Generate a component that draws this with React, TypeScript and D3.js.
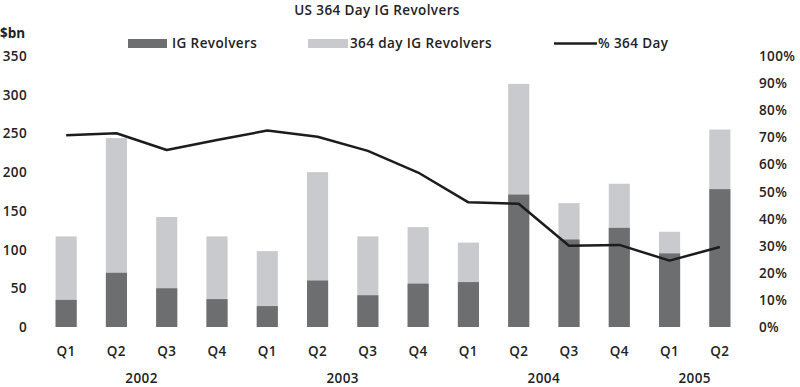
import React, { useEffect, useRef } from 'react';
import * as d3 from 'd3';

// Quarterly data
const quarters = ['Q1', 'Q2', 'Q3', 'Q4', 'Q1', 'Q2', 'Q3', 'Q4', 'Q1', 'Q2', 'Q3', 'Q4', 'Q1', 'Q2'];
const years = ['2002', '2002', '2002', '2002', '2003', '2003', '2003', '2003', '2004', '2004', '2004', '2004', '2005', '2005'];
const igRevolvers = [35, 70, 50, 36, 27, 60, 41, 56, 58, 171, 113, 128, 95, 178];
const totalRevolvers = [117, 244, 142, 117, 98, 200, 117, 129, 109, 314, 160, 185, 123, 255];
const pct364 = [70.8, 71.5, 65.3, 69, 72.5, 70.2, 65, 57, 46, 45.5, 30, 30.3, 24.5, 29.5];
const leftTicks = [0, 50, 100, 150, 200, 250, 300, 350];
const rightTicks = [0, 10, 20, 30, 40, 50, 60, 70, 80, 90, 100];

const DARK = '#6d6e70';
const LIGHT = '#c8cace';
const FONT = '"Open Sans", sans-serif';

const App: React.FC = () => {
  const ref = useRef<SVGSVGElement>(null);

  useEffect(() => {
    const width = 800;
    const height = 387;
    const svg = d3.select(ref.current).attr('width', width).attr('height', height);
    svg.selectAll('*').remove();

    const idx = quarters.map((_, i) => i);

    const x = d3.scaleBand<number>()
      .domain(idx)
      .range([41, 745])
      .paddingInner(0.58)
      .paddingOuter(0.29);

    const y = d3.scaleLinear().domain([0, 350]).range([327, 56]);
    const yPct = d3.scaleLinear().domain([0, 100]).range([327, 56]);

    const cx = (i: number) => (x(i) || 0) + x.bandwidth() / 2;

    const txt = (sel: any) => sel
      .style('font-family', FONT)
      .style('font-size', '13.5px')
      .style('font-weight', 600)
      .style('letter-spacing', '0.4px')
      .style('fill', '#222');

    // title
    svg.append('text')
      .attr('x', 377).attr('y', 15)
      .attr('text-anchor', 'middle')
      .call(txt)
      .text('US 364 Day IG Revolvers');

    svg.append('text')
      .attr('x', 0).attr('y', 38)
      .call(txt)
      .style('font-weight', 'bold')
      .style('letter-spacing', '0px')
      .text('$bn');

    // legend
    const legend = svg.append('g').call(txt);
    legend.append('rect').attr('x', 128).attr('y', 39).attr('width', 39).attr('height', 9).attr('fill', DARK);
    legend.append('text').attr('x', 172).attr('y', 48).text('IG Revolvers');
    legend.append('rect').attr('x', 308).attr('y', 39).attr('width', 40).attr('height', 9).attr('fill', LIGHT);
    legend.append('text').attr('x', 350).attr('y', 48).text('364 day IG Revolvers');
    legend.append('line').attr('x1', 554).attr('x2', 597).attr('y1', 43.5).attr('y2', 43.5)
      .attr('stroke', '#1c1c1c').attr('stroke-width', 2.5);
    legend.append('text').attr('x', 598).attr('y', 48).text('% 364 Day');

    // stacked bars: total (light) behind, IG (dark) in front
    svg.append('g').selectAll('rect')
      .data(idx)
      .enter()
      .append('rect')
      .attr('x', (i) => x(i) || 0)
      .attr('y', (i) => y(totalRevolvers[i]))
      .attr('width', x.bandwidth())
      .attr('height', (i) => y(0) - y(totalRevolvers[i]))
      .attr('fill', LIGHT);

    svg.append('g').selectAll('rect')
      .data(idx)
      .enter()
      .append('rect')
      .attr('x', (i) => x(i) || 0)
      .attr('y', (i) => y(igRevolvers[i]))
      .attr('width', x.bandwidth())
      .attr('height', (i) => y(0) - y(igRevolvers[i]))
      .attr('fill', DARK);

    // % line
    const line = d3.line<number>()
      .x((i) => cx(i))
      .y((i) => yPct(pct364[i]));

    svg.append('path')
      .datum(idx)
      .attr('d', line)
      .attr('fill', 'none')
      .attr('stroke', '#1c1c1c')
      .attr('stroke-width', 2.5)
      .attr('stroke-linejoin', 'round');

    // axes (labels only, no lines)
    const axisText = svg.append('g').call(txt);

    axisText.selectAll('.lt')
      .data(leftTicks)
      .enter()
      .append('text')
      .attr('x', 27)
      .attr('y', (d) => y(d) + 5)
      .attr('text-anchor', 'end')
      .text((d) => d);

    axisText.selectAll('.rt')
      .data(rightTicks)
      .enter()
      .append('text')
      .attr('x', 759)
      .attr('y', (d) => yPct(d) + 5)
      .text((d) => `${d}%`);

    axisText.selectAll('.qt')
      .data(idx)
      .enter()
      .append('text')
      .attr('x', (i) => cx(i))
      .attr('y', 356)
      .attr('text-anchor', 'middle')
      .text((i) => quarters[i]);

    // year labels centred under their quarters
    const yearGroups = d3.groups(idx, (i) => years[i]);
    axisText.selectAll('.yt')
      .data(yearGroups)
      .enter()
      .append('text')
      .attr('x', ([, is]) => (cx(is[0]) + cx(is[is.length - 1])) / 2)
      .attr('y', 383)
      .attr('text-anchor', 'middle')
      .text(([yr]) => yr);
  }, []);

  return (
    <div style={{ position: 'absolute', left: 0, top: 0 }}>
      <svg ref={ref} style={{ display: 'block', background: '#fff' }}></svg>
    </div>
  );
};

export default App;
